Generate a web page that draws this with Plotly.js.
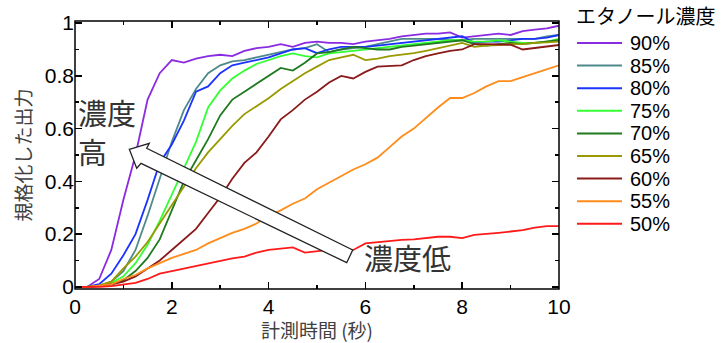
<!DOCTYPE html>
<html>
<head>
<meta charset="utf-8">
<script src="https://cdn.plot.ly/plotly-3.0.1.min.js"></script>
<style>html,body{margin:0;padding:0;background:#fff;}#chart{width:721px;height:343px;}</style>
</head>
<body>
<div id="chart"></div>
<script>
// time axis (s)
const time = [0,0.25,0.5,0.75,1,1.25,1.5,1.75,2,2.25,2.5,2.75,3,3.25,3.5,3.75,4,4.25,4.5,4.75,5,5.25,5.5,5.75,6,6.25,6.5,6.75,7,7.25,7.5,7.75,8,8.25,8.5,8.75,9,9.25,9.5,9.75,10];

const e90 = [0,0,0.03,0.14,0.33,0.5,0.71,0.81,0.86,0.85,0.865,0.875,0.88,0.875,0.895,0.905,0.91,0.92,0.91,0.925,0.93,0.925,0.925,0.92,0.93,0.935,0.94,0.95,0.955,0.96,0.96,0.965,0.945,0.95,0.955,0.96,0.955,0.97,0.975,0.98,0.99];
const e85 = [0,0,0.005,0.02,0.06,0.14,0.27,0.41,0.55,0.67,0.75,0.81,0.84,0.855,0.86,0.87,0.88,0.89,0.90,0.905,0.92,0.89,0.90,0.905,0.91,0.92,0.93,0.94,0.94,0.94,0.94,0.935,0.935,0.94,0.94,0.94,0.94,0.94,0.94,0.95,0.955];
const e80 = [0,0,0.01,0.05,0.12,0.2,0.33,0.47,0.54,0.63,0.74,0.76,0.81,0.84,0.85,0.86,0.87,0.885,0.9,0.905,0.886,0.9,0.91,0.91,0.91,0.915,0.92,0.925,0.93,0.935,0.94,0.945,0.95,0.925,0.93,0.93,0.935,0.94,0.94,0.945,0.955];
const e75 = [0,0,0.005,0.015,0.04,0.09,0.16,0.25,0.35,0.45,0.55,0.68,0.745,0.79,0.82,0.845,0.86,0.875,0.885,0.875,0.87,0.885,0.89,0.895,0.9,0.905,0.91,0.917,0.92,0.925,0.93,0.935,0.935,0.93,0.93,0.935,0.93,0.925,0.925,0.93,0.94];
const e70 = [0,0,0.003,0.01,0.025,0.06,0.11,0.18,0.29,0.4,0.48,0.56,0.65,0.71,0.74,0.77,0.80,0.83,0.82,0.85,0.885,0.89,0.9,0.91,0.905,0.9,0.9,0.91,0.915,0.92,0.925,0.93,0.935,0.92,0.915,0.92,0.925,0.92,0.925,0.93,0.935];
const e65 = [0,0,0.005,0.02,0.07,0.115,0.17,0.24,0.31,0.38,0.45,0.51,0.56,0.61,0.655,0.685,0.715,0.75,0.78,0.81,0.835,0.86,0.87,0.88,0.86,0.865,0.875,0.88,0.886,0.895,0.905,0.915,0.925,0.91,0.915,0.917,0.92,0.92,0.925,0.927,0.93];
const e60 = [0,0,0.003,0.01,0.02,0.04,0.07,0.10,0.14,0.18,0.22,0.28,0.34,0.41,0.47,0.51,0.57,0.635,0.67,0.71,0.74,0.775,0.80,0.79,0.815,0.835,0.838,0.84,0.86,0.875,0.885,0.895,0.90,0.92,0.92,0.92,0.918,0.90,0.905,0.91,0.917];
const e55 = [0,0,0.005,0.01,0.03,0.045,0.07,0.09,0.11,0.125,0.14,0.165,0.185,0.205,0.22,0.24,0.27,0.29,0.315,0.335,0.37,0.395,0.42,0.445,0.465,0.49,0.53,0.57,0.60,0.64,0.68,0.716,0.716,0.735,0.76,0.78,0.78,0.795,0.81,0.825,0.84];
const e50 = [0,0,0,0.003,0.01,0.015,0.03,0.05,0.06,0.07,0.08,0.09,0.1,0.108,0.115,0.13,0.14,0.145,0.15,0.13,0.135,0.14,0.14,0.14,0.165,0.17,0.175,0.178,0.18,0.185,0.19,0.19,0.185,0.197,0.2,0.205,0.21,0.215,0.225,0.23,0.23];

const seriesNames = ['90%','85%','80%','75%','70%','65%','60%','55%','50%'];
const seriesValues = [e90,e85,e80,e75,e70,e65,e60,e55,e50];
const seriesColors = ['#8a2be2','#4f8a8b','#1a33ff','#33ff33','#1f7a1f','#999900','#8b1a1a','#ff8c1a','#ff1a1a'];

const legendTitle = 'エタノール濃度';
const xTitle = '計測時間 (秒)';
const yTitle = '規格化した出力';

// plot-area geometry (pixels) for placing paper-referenced decorations
const L = 75, T = 21, W = 484, H = 268;
const PX = p => (p - L) / W;
const PY = p => (T + H - p) / H;

const traces = seriesValues.map((v, i) => ({
  x: time, y: v, type: 'scatter', mode: 'lines', name: seriesNames[i],
  line: {color: seriesColors[i], width: 1.8}, showlegend: false
}));

const shapes = [];
const annotations = [];

// plot frame
shapes.push({type:'rect', xref:'paper', yref:'paper', x0:0, x1:1, y0:0, y1:1, layer:'above',
  line:{color:'#000', width:1.5}, fillcolor:'rgba(0,0,0,0)'});

// manual legend
annotations.push({xref:'paper', yref:'paper', x: PX(574), y: PY(15), xanchor:'left', yanchor:'middle',
  text: legendTitle, showarrow:false, font:{family:'Noto Sans CJK JP', size:20, color:'#000'}});
seriesNames.forEach((n, i) => {
  const yy = 43 + i * 22.6;
  shapes.push({type:'line', xref:'paper', yref:'paper', x0: PX(577), x1: PX(622), y0: PY(yy), y1: PY(yy),
    line:{color: seriesColors[i], width: 2}});
  annotations.push({xref:'paper', yref:'paper', x: PX(628), y: PY(yy), xanchor:'left', yanchor:'middle',
    text: n, showarrow:false, font:{family:'Liberation Sans, Arial, sans-serif', size:20, color:'#000'}});
});

// big hollow arrow
const arrowPts = [[129.3,149.3],[149.3,143.3],[146.7,148.3],[352.7,250],[346.7,262.7],[141,163.3],[136.7,168.3]];
shapes.push({type:'path', xref:'paper', yref:'paper', layer:'above',
  path: 'M' + arrowPts.map(p => PX(p[0]).toFixed(4) + ',' + PY(p[1]).toFixed(4)).join(' L') + ' Z',
  fillcolor:'#ffffff', line:{color:'#222', width:1.3}});

annotations.push({xref:'paper', yref:'paper', x: PX(77), y: PY(112), xanchor:'left', yanchor:'middle',
  text:'濃度', showarrow:false, borderpad:0, font:{family:'Noto Sans CJK JP', size:29, color:'#333'}});
annotations.push({xref:'paper', yref:'paper', x: PX(77), y: PY(151), xanchor:'left', yanchor:'middle',
  text:'高', showarrow:false, borderpad:0, font:{family:'Noto Sans CJK JP', size:29, color:'#333'}});
annotations.push({xref:'paper', yref:'paper', x: PX(407), y: PY(257), xanchor:'center', yanchor:'middle',
  text:'濃度低', showarrow:false, font:{family:'Noto Sans CJK JP', size:29, color:'#333'}});

const axisCommon = {
  showline:false, mirror:'ticks',
  ticks:'inside', ticklen:7, tickwidth:1.5, tickcolor:'#000',
  showgrid:false, zeroline:false,
  tickfont:{family:'Liberation Sans, Arial, sans-serif', size:21, color:'#000'}
};

const layout = {
  width:721, height:343,
  margin:{l:L, r:721-L-W, t:T, b:343-T-H},
  paper_bgcolor:'#fff', plot_bgcolor:'#fff',
  showlegend:false,
  xaxis: Object.assign({}, axisCommon, {
    range:[0,10], tick0:0, dtick:2, ticklabelstandoff:3,
    minor:{dtick:1, ticks:'inside', ticklen:4, tickwidth:1.5, tickcolor:'#000'},
    title:{text:xTitle, standoff:4, font:{family:'Noto Sans CJK JP', size:19, color:'#404040'}}
  }),
  yaxis: Object.assign({}, axisCommon, {
    range:[-0.008,1.008], tick0:0, dtick:0.2,
    minor:{dtick:0.1, ticks:'inside', ticklen:4, tickwidth:1.5, tickcolor:'#000'},
    title:{text:yTitle, standoff:8, font:{family:'Noto Sans CJK JP', size:19, color:'#404040'}}
  }),
  shapes: shapes,
  annotations: annotations
};

Plotly.newPlot('chart', traces, layout, {displayModeBar:false, staticPlot:true});
</script>
</body>
</html>
